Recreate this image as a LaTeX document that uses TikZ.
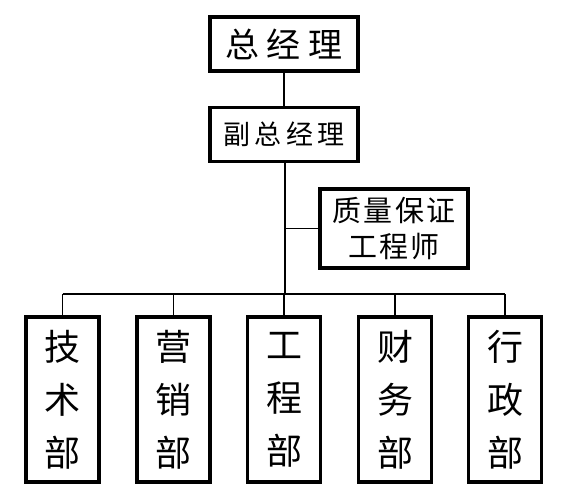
\documentclass[tikz,border=0pt]{standalone}
\usepackage{fontspec}
\newfontfamily\cjk{Noto Sans CJK SC}
\usetikzlibrary{positioning}
\tikzset{
  post/.style={draw, line width=3.5pt, fill=white, inner sep=0pt, align=center,
    minimum width=148pt, minimum height=#1},
  post/.default=54pt,
  dept/.style={draw, line width=3.5pt, fill=white, inner sep=0pt, align=center,
    minimum width=73pt, minimum height=165pt,
    font={\cjk\fontsize{36}{53}\selectfont}},
  link/.style={line width=1.6pt},
}

\begin{document}
\begin{tikzpicture}[x=1pt,y=-1pt]
\useasboundingbox (0,0) rectangle (576,498);

\node[post, font={\cjk\fontsize{34}{36}\selectfont\addfontfeature{LetterSpace=22}}]
  (gm) at (284,44) {总经理};
\node[post, below=33pt of gm,
  font={\cjk\fontsize{27}{30}\selectfont\addfontfeature{LetterSpace=16}}]
  (dgm) {副总经理};
\node[post=79pt, font={\cjk\fontsize{29}{36}\selectfont\addfontfeature{LetterSpace=8}}]
  (qa) at (394,228.5) {质量保证\\工程师};

% ===== departments =====
\foreach \n/\x/\t in {jishu/62.5/技\\术\\部, yingxiao/173.5/营\\销\\部,
    gongcheng/284/工\\程\\部, caiwu/395/财\\务\\部, xingzheng/505/行\\政\\部}
  { \node[dept] (\n) at (\x,399.5) {\t}; }

% ===== connectors =====
\coordinate (bus) at (285,294);
\draw[link] (gm) -- (dgm);
\draw[link] (dgm.south -| bus) -- (bus);
\draw[link] (qa.west) -- (qa.west -| bus);
\draw[link] (jishu.north |- bus) -- (xingzheng.north |- bus);
\foreach \n in {jishu, yingxiao, gongcheng, caiwu, xingzheng}
  { \draw[link] (\n.north) -- (\n.north |- bus); }

\end{tikzpicture}
\end{document}
